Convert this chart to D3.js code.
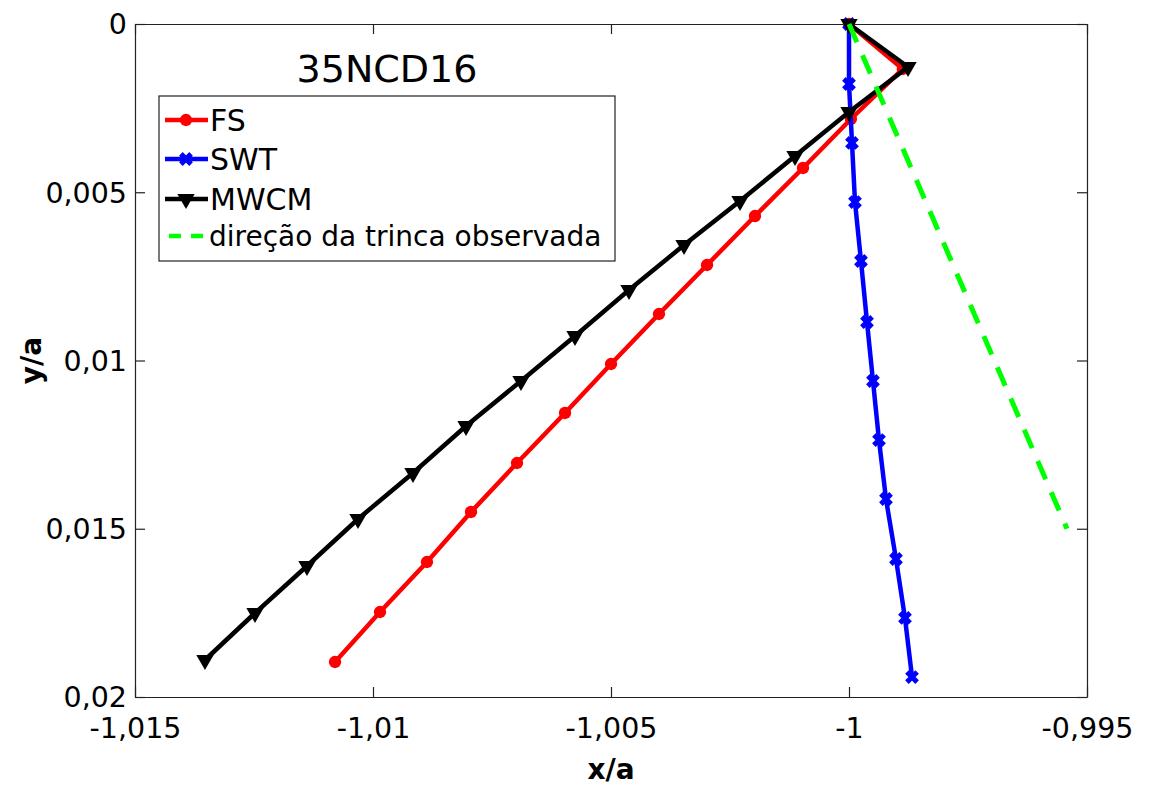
<!DOCTYPE html>
<html>
<head>
<meta charset="utf-8">
<script src="https://cdn.jsdelivr.net/npm/d3@7"></script>
<style>
  body { margin: 0; background: #fff; }
  text { font-family: "DejaVu Sans", sans-serif; fill: #000; }
</style>
</head>
<body>
<div id="figure-container"></div>
<script>
// data
const fsX = [-1, -0.99887, -0.99996, -1.000966, -1.001975, -1.002983, -1.003992, -1.005, -1.005966, -1.006975, -1.007941, -1.008866, -1.009853, -1.010798];
const fsY = [0, 0.001337, 0.002823, 0.004279, 0.005706, 0.007162, 0.008618, 0.010104, 0.01156, 0.013046, 0.014502, 0.015988, 0.017474, 0.01896];

const swtX = [-1, -1.0, -0.999937, -0.999874, -0.999748, -0.999622, -0.999496, -0.99937, -0.999223, -0.999013, -0.998824, -0.998676];
const swtY = [0, 0.001783, 0.003536, 0.00529, 0.007043, 0.008856, 0.010609, 0.012363, 0.014116, 0.015899, 0.017652, 0.019406];

const mwcmX = [-1, -0.99876, -1.0, -1.001134, -1.00229, -1.003466, -1.004622, -1.005756, -1.006891, -1.008046, -1.00916, -1.010315, -1.011387, -1.012479, -1.01353];
const mwcmY = [0, 0.001278, 0.002615, 0.003923, 0.00526, 0.006568, 0.007905, 0.009272, 0.010609, 0.011947, 0.013343, 0.01471, 0.016107, 0.017504, 0.0189];

const crackX = [-1, -0.99542];
const crackY = [0, 0.015];

const xTicks = [-1.015, -1.01, -1.005, -1, -0.995];
const yTicks = [0, 0.005, 0.01, 0.015, 0.02];

const seriesNames = ['FS', 'SWT', 'MWCM', 'direção da trinca observada'];
const titleText = '35NCD16';

var margin = {top: 24, right: 65, bottom: 88, left: 135};
var fullWidth = 1152, fullHeight = 785;
var width = fullWidth - margin.left - margin.right;
var height = fullHeight - margin.top - margin.bottom;

const locale = d3.formatLocale({decimal: ',', thousands: '.', grouping: [3], currency: ['', ''], minus: '-'});
const fmt = locale.format('~g');

var xScale = d3.scaleLinear().domain([-1.015, -0.995]).range([0, width]);
var yScale = d3.scaleLinear().domain([0, 0.02]).range([0, height]);

var svg = d3.select('#figure-container')
  .append('svg')
  .attr('width', fullWidth)
  .attr('height', fullHeight)
  .append('g')
  .attr('transform', `translate(${margin.left},${margin.top})`);

// axes with inward ticks on all four sides
var xAxis = d3.axisBottom(xScale).tickValues(xTicks).tickFormat(fmt).tickSizeInner(-10).tickSizeOuter(0).tickPadding(21);
var yAxis = d3.axisLeft(yScale).tickValues(yTicks).tickFormat(fmt).tickSizeInner(-10).tickSizeOuter(0).tickPadding(8);
var xTop = d3.axisTop(xScale).tickValues(xTicks).tickFormat('').tickSizeInner(-10).tickSizeOuter(0);
var yRight = d3.axisRight(yScale).tickValues(yTicks).tickFormat('').tickSizeInner(-10).tickSizeOuter(0);

function styleAxis(g) {
  g.selectAll('path, line').attr('stroke', '#222').attr('stroke-width', 1.2);
  g.selectAll('text').style('font-size', '28.5px').attr('fill', '#000');
}

svg.append('g').attr('transform', `translate(0,${height})`).call(xAxis).call(styleAxis);
svg.append('g').call(yAxis).call(styleAxis)
  .selectAll('text').attr('dy', '0.35em');
svg.append('g').call(xTop).call(styleAxis);
svg.append('g').attr('transform', `translate(${width},0)`).call(yRight).call(styleAxis);

svg.append('text')
  .attr('x', width / 2)
  .attr('y', height + 82)
  .attr('text-anchor', 'middle')
  .style('font-size', '28px')
  .style('font-weight', 'bold')
  .text('x/a');

svg.append('text')
  .attr('transform', `translate(${-94},${height / 2}) rotate(-90)`)
  .attr('text-anchor', 'middle')
  .style('font-size', '28px')
  .style('font-weight', 'bold')
  .text('y/a');

svg.append('text')
  .attr('x', 252)
  .attr('y', 58)
  .attr('text-anchor', 'middle')
  .style('font-size', '38px')
  .text(titleText);

var line = d3.line()
  .x(function(d) { return xScale(d.x); })
  .y(function(d) { return yScale(d.y); });

function zipXY(xs, ys) {
  return xs.map(function(x, i) { return {x: x, y: ys[i]}; });
}

var circleSym = d3.symbol().type(d3.symbolCircle).size(120);
var triSym = d3.symbol().type(d3.symbolTriangle).size(130);
var xSym = d3.symbol().type(d3.symbolX).size(70);

var series = [
  {name: seriesNames[0], color: '#ff0000', pts: zipXY(fsX, fsY), marker: 'circle'},
  {name: seriesNames[1], color: '#0000ff', pts: zipXY(swtX, swtY), marker: 'x'},
  {name: seriesNames[2], color: '#000000', pts: zipXY(mwcmX, mwcmY), marker: 'tri'},
  {name: seriesNames[3], color: '#00ff00', pts: zipXY(crackX, crackY), marker: null, dash: '20,14'}
];

function drawMarker(g, type, color) {
  if (type === 'circle') {
    g.append('path').attr('d', circleSym()).attr('fill', color);
  } else if (type === 'tri') {
    g.append('path').attr('d', triSym()).attr('transform', 'rotate(180)').attr('fill', color);
  } else if (type === 'x') {
    g.append('path').attr('d', xSym()).attr('fill', 'none').attr('stroke', color).attr('stroke-width', 5);
  }
}

var dataArea = svg.append('g').attr('class', 'data-area');
series.forEach(function(s) {
  dataArea.append('path')
    .datum(s.pts)
    .attr('d', line)
    .attr('fill', 'none')
    .attr('stroke', s.color)
    .attr('stroke-width', s.dash ? 5 : 4.5)
    .attr('stroke-dasharray', s.dash || null);
  if (s.marker) {
    dataArea.append('g')
      .selectAll('g')
      .data(s.pts)
      .enter()
      .append('g')
      .attr('transform', function(d) { return `translate(${xScale(d.x)},${yScale(d.y)})`; })
      .each(function() { drawMarker(d3.select(this), s.marker, s.color); });
  }
});

// legend
var legend = svg.append('g').attr('transform', 'translate(24,72)');
legend.append('rect')
  .attr('width', 456)
  .attr('height', 165)
  .attr('fill', '#fff')
  .attr('stroke', '#222')
  .attr('stroke-width', 1.2);
var rowY = [24, 63, 103, 140];
series.forEach(function(s, i) {
  var row = legend.append('g').attr('transform', `translate(0,${rowY[i]})`);
  row.append('line')
    .attr('x1', s.dash ? 10 : 6).attr('x2', 49)
    .attr('stroke', s.color)
    .attr('stroke-width', 4.5)
    .attr('stroke-dasharray', s.dash ? '12,10' : null);
  if (s.marker) {
    var m = row.append('g').attr('transform', 'translate(27,0)');
    drawMarker(m, s.marker, s.color);
  }
  row.append('text')
    .attr('x', s.dash ? 50 : 51)
    .attr('dy', '0.36em')
    .style('font-size', s.dash ? '28px' : '30px')
    .text(s.name);
});
</script>
</body>
</html>
